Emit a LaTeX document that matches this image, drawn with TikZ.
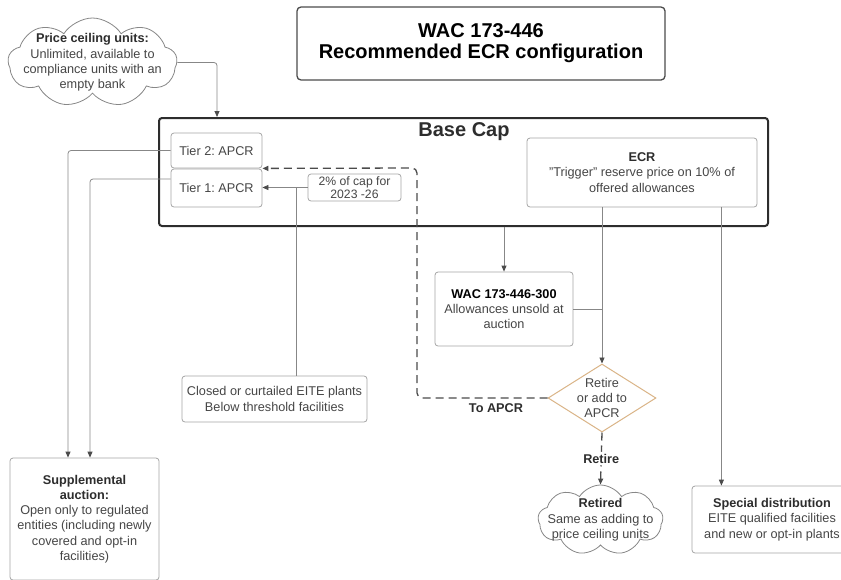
\documentclass[tikz,border=0pt]{standalone}
\usepackage{fontspec}
\setmainfont{Liberation Sans}
\usepackage{tikz}
\usetikzlibrary{shapes.geometric}
\usetikzlibrary{shapes.symbols}
\usetikzlibrary{arrows.meta}
\frenchspacing

\definecolor{boxgray}{RGB}{165,165,165}
\definecolor{linegray}{RGB}{135,135,135}
\definecolor{txtgray}{RGB}{70,70,70}
\definecolor{hdrgray}{RGB}{45,45,45}
\definecolor{tipgray}{RGB}{75,75,75}
\definecolor{diatan}{RGB}{218,180,135}

\begin{document}
\begin{tikzpicture}[x=1pt,y=-1pt,
   every node/.style={font=\fontsize{12.7}{15.3}\selectfont,text=txtgray,align=center},
   box/.style={draw=boxgray,line width=.8pt,rounded corners=3pt,fill=white,inner sep=1pt},
   puff/.style={cloud,cloud puffs=9,cloud puff arc=115,cloud ignores aspect,draw=linegray,line width=.8pt,fill=white,inner sep=0pt},
   head/.style={font=\fontsize{12.7}{15.3}\selectfont\bfseries,text=hdrgray},
   conn/.style={draw=linegray,line width=.8pt},
   arr/.style={conn,-{Triangle[length=6pt,width=5pt,color=tipgray]}},
   apcrline/.style={draw=tipgray,line width=1.3pt,dash pattern=on 8pt off 5pt,rounded corners=5pt}
   ]
   \useasboundingbox (0,0) rectangle (841,579);

   \node[draw=tipgray,line width=1.3pt,rounded corners=4pt,minimum width=368,minimum height=73,
      font=\fontsize{20}{21}\selectfont\bfseries,text=black] (ttl) at (481,43.5)
      {WAC 173-446\\Recommended ECR configuration};

   \node[puff,minimum width=169,minimum height=89] (pc) at (92.5,62.5) {};
   \node (pctxt) at (pc) {\textcolor{hdrgray}{\bfseries Price ceiling units:}\\Unlimited, available to\\compliance units with an\\empty bank};

   \node[draw=hdrgray,line width=2pt,rounded corners=3pt,minimum width=609,minimum height=108] (cap) at (463.5,172) {};
   \node[font=\fontsize{20}{22}\selectfont\bfseries,text=hdrgray] (captxt) at (464,132) {Base Cap};

   \node[box,minimum width=91,minimum height=35] (t2) at (216.5,150.5) {Tier 2: APCR};
   \node[box,minimum width=91,minimum height=38] (t1) at (216.5,188) {Tier 1: APCR};
   \node[box,minimum width=93,minimum height=27,font=\fontsize{12.2}{13}\selectfont] (pct) at (354.5,187.5) {2\% of cap for\\2023 -26};
   \node[box,minimum width=230,minimum height=69] (ecr) at (642,172.5)
      {\textcolor{hdrgray}{\bfseries ECR}\\"Trigger" reserve price on 10\% of\\offered allowances};

   \node[box,minimum width=138,minimum height=74] (wac) at (504,309)
      {\textcolor{black}{\bfseries WAC 173-446-300}\\Allowances unsold at\\auction};
   \node[diamond,draw=diatan,line width=1pt,fill=white,inner sep=0pt,minimum width=108,minimum height=68] (dia) at (602,398) {};
   \node (diatxt) at (dia) {Retire\\or add to\\APCR};

   \node[box,minimum width=185,minimum height=46] (closed) at (274.5,399)
      {Closed or curtailed EITE plants\\Below threshold facilities};

   \node[box,minimum width=149,minimum height=122] (supp) at (84.5,519)
      {\textcolor{hdrgray}{\bfseries Supplemental}\\\textcolor{hdrgray}{\bfseries auction:}\\Open only to regulated\\entities (including newly\\covered and opt-in\\facilities)};

   \node[puff,minimum width=125,minimum height=70] (ret) at (600.5,520) {};
   \node (rettxt) at (ret) {\textcolor{hdrgray}{\bfseries Retired}\\Same as adding to\\price ceiling units};

   \node[box,minimum width=160,minimum height=67] (sp) at (772,519.5)
      {\textcolor{hdrgray}{\bfseries Special distribution}\\EITE qualified facilities\\and new or opt-in plants};

   \coordinate (a1) at ([xshift=59]cap.north west);
   \draw[arr,rounded corners=3pt] (pc.east) -| (a1);

   \foreach \t/\dy/\dx in {t2/0/-16.5,t1/9/5.5}
      \draw[arr,rounded corners=3pt] ([yshift=\dy]\t.west) -| ([xshift=\dx]supp.north);

   \draw[arr] (pct.west) -- (pct.west -| t1.east);
   \coordinate (c1) at ([xshift=21.5]closed.north);
   \draw[conn] (c1) -- (c1 |- pct.west);

   \draw[arr] (wac.north |- cap.south) -- (wac.north);
   \draw[conn,rounded corners=3pt] (wac.east) -- (wac.east -| dia.north);
   \draw[arr] (dia.north |- ecr.south) -- (dia.north);
   \coordinate (e1) at ([xshift=-36]ecr.south east);
   \draw[arr] (e1) -- (e1 |- sp.north);

   \coordinate (bend) at (417,168);
   \draw[apcrline,-{Triangle[length=6pt,width=5pt]}] (dia.west) -| (bend) -- (t2.south east);
   \node[head] (toapcr) at (496,408) {To APCR};

   \draw[apcrline,-{Triangle[length=6pt,width=5pt]}] (dia.south) -- node[head,fill=white,inner sep=2pt] (rt) {Retire} (ret.north);

\end{tikzpicture}
\end{document}
